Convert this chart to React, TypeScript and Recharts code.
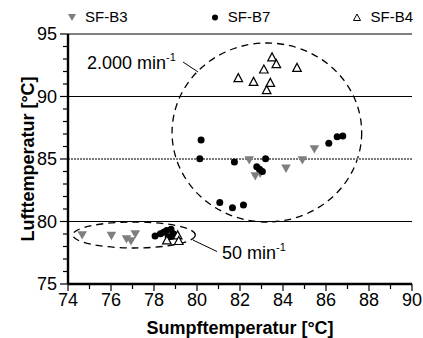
import React from 'react';
import {
  ScatterChart,
  Scatter,
  XAxis,
  YAxis,
  ReferenceLine,
  ReferenceArea,
  ReferenceDot,
  Legend,
} from 'recharts';

// Measured temperatures (sump vs. air), one list per test series
const sfB3 = [
  { x: 74.66, y: 78.92 },
  { x: 76.02, y: 78.87 },
  { x: 76.72, y: 78.6 },
  { x: 76.93, y: 78.44 },
  { x: 77.13, y: 79.0 },
  { x: 82.43, y: 84.92 },
  { x: 82.71, y: 83.64 },
  { x: 82.94, y: 83.85 },
  { x: 84.14, y: 84.25 },
  { x: 84.9, y: 84.92 },
  { x: 85.46, y: 85.8 },
];

const sfB7 = [
  { x: 78.05, y: 78.84 },
  { x: 78.3, y: 79.02 },
  { x: 78.45, y: 79.15 },
  { x: 78.59, y: 79.29 },
  { x: 78.79, y: 79.38 },
  { x: 78.9, y: 79.03 },
  { x: 78.66, y: 78.76 },
  { x: 78.8, y: 78.8 },
  { x: 80.19, y: 86.52 },
  { x: 80.13, y: 85.03 },
  { x: 81.74, y: 84.76 },
  { x: 83.19, y: 85.03 },
  { x: 82.78, y: 84.38 },
  { x: 82.91, y: 84.18 },
  { x: 83.04, y: 84.0 },
  { x: 86.13, y: 86.26 },
  { x: 86.52, y: 86.78 },
  { x: 86.78, y: 86.84 },
  { x: 81.06, y: 81.53 },
  { x: 81.65, y: 81.1 },
  { x: 82.16, y: 81.32 },
];

const sfB4 = [
  { x: 78.6, y: 78.5 },
  { x: 79.1, y: 78.9 },
  { x: 79.15, y: 78.45 },
  { x: 83.49, y: 93.14 },
  { x: 83.69, y: 92.6 },
  { x: 83.11, y: 92.17 },
  { x: 84.65, y: 92.3 },
  { x: 81.92, y: 91.48 },
  { x: 82.63, y: 91.18 },
  { x: 83.41, y: 91.1 },
  { x: 83.24, y: 90.52 },
];

const seriesNames = ['SF-B3', 'SF-B7', 'SF-B4'];
const xTicks = [74, 75, 76, 77, 78, 79, 80, 81, 82, 83, 84, 85, 86, 87, 88, 89, 90];
const yTicks = [75, 76, 77, 78, 79, 80, 81, 82, 83, 84, 85, 86, 87, 88, 89, 90, 91, 92, 93, 94, 95];
const blackGridLevels = [80, 90, 95];
const grayGridLevels = [85];

// Operating-point groups: centre and half-axes in data units
const groups = [
  { label: '2.000', cx: 83.25, cy: 87.12, rx: 4.41, ry: 7.16, lead: [{ x: 79.35, y: 92.76 }, { x: 80.05, y: 91.96 }], text: { x: 74.88, y: 92.68 } },
  { label: '50', cx: 77.07, cy: 78.92, rx: 2.85, ry: 1.04, lead: [{ x: 79.81, y: 78.52 }, { x: 80.93, y: 77.6 }], text: { x: 81.16, y: 77.48 } },
];

const FONT = 'Arial, "Liberation Sans", Helvetica, sans-serif';
const TICK_SIZE = 8;
const TICK_MARGIN = 2;

const DownTriangle = (p: any) => {
  const { cx, cy } = p;
  const w = 4.8;
  return <polygon points={`${cx - w},${cy - 3.8} ${cx + w},${cy - 3.8} ${cx},${cy + 4.6}`} fill="#7f7f7f" />;
};
const Dot = (p: any) => <circle cx={p.cx} cy={p.cy} r={3.5} fill="#000" />;
const UpTriangle = (p: any) => {
  const { cx, cy } = p;
  const w = 4.3;
  return (
    <polygon
      points={`${cx - w},${cy + 3.6} ${cx + w},${cy + 3.6} ${cx},${cy - 4.4}`}
      fill="#fff"
      stroke="#000"
      strokeWidth={1.2}
    />
  );
};

const legendIcon = (name: string) => {
  if (name === 'SF-B3') return <polygon points="1,2 9,2 5,9" fill="#7f7f7f" />;
  if (name === 'SF-B7') return <circle cx={5} cy={5.5} r={3} fill="#000" />;
  return <polygon points="1.5,8.5 8.5,8.5 5,2" fill="#fff" stroke="#000" strokeWidth={1} />;
};

const renderLegend = () => (
  <div
    style={{
      display: 'flex',
      justifyContent: 'space-between',
      padding: '8px 10px 0 67px',
      fontFamily: FONT,
      fontSize: 15,
      color: '#000',
      lineHeight: '18px',
    }}
  >
    {seriesNames.map((name) => (
      <div key={name} style={{ display: 'flex', alignItems: 'center' }}>
        <svg width={10} height={11} style={{ marginRight: 8 }}>
          {legendIcon(name)}
        </svg>
        <span>{name}</span>
      </div>
    ))}
  </div>
);

const XTick = (props: any) => {
  const { x, y, payload } = props;
  const v = payload.value;
  const major = v % 2 === 0;
  const axisY = y - TICK_SIZE - TICK_MARGIN;
  return (
    <g>
      <line x1={x} x2={x} y1={axisY} y2={axisY + (major ? 7 : 5)} stroke="#000" strokeWidth={1.2} />
      {major && (
        <text x={x} y={axisY + 21.5} textAnchor="middle" fontFamily={FONT} fontSize={18} fill="#000">
          {v}
        </text>
      )}
    </g>
  );
};

const YTick = (props: any) => {
  const { x, y, payload } = props;
  const v = payload.value;
  const major = v % 5 === 0;
  const axisX = x + TICK_SIZE + TICK_MARGIN;
  return (
    <g>
      <line x1={axisX - (major ? 8 : 5)} x2={axisX} y1={y} y2={y} stroke="#000" strokeWidth={1.2} />
      {major && (
        <text x={axisX - 11} y={y} dy="0.36em" textAnchor="end" fontFamily={FONT} fontSize={18} fill="#000">
          {v}
        </text>
      )}
    </g>
  );
};

const EllipseShape = (p: any) => (
  <ellipse
    cx={p.x + p.width / 2}
    cy={p.y + p.height / 2}
    rx={Math.abs(p.width) / 2}
    ry={Math.abs(p.height) / 2}
    fill="none"
    stroke="#000"
    strokeWidth={1.3}
    strokeDasharray="7 5"
  />
);

const speedLabel = (label: string) => (p: any) => (
  <text x={p.cx} y={p.cy} dy="0.36em" fontFamily={FONT} fontSize={18} fill="#000">
    {label} min
    <tspan fontSize={11} dy="-0.75em">-1</tspan>
  </text>
);

export default function App() {
  return (
    <div style={{ position: 'absolute', left: 0, top: 0, background: '#fff' }}>
      <ScatterChart width={423} height={338} margin={{ top: 34, right: 11, bottom: 0, left: 0 }}>
        <XAxis
          type="number"
          dataKey="x"
          domain={[74, 90]}
          ticks={xTicks}
          interval={0}
          height={54}
          tickSize={TICK_SIZE}
          tickMargin={TICK_MARGIN}
          tickLine={false}
          axisLine={{ stroke: '#000', strokeWidth: 2.4 }}
          tick={<XTick />}
          label={{
            content: (lp: any) => (
              <text
                x={lp.viewBox.x + lp.viewBox.width / 2}
                y={lp.viewBox.y + 50}
                textAnchor="middle"
                fontFamily={FONT}
                fontWeight="bold"
                fontSize={18}
                fill="#000"
              >
                Sumpftemperatur [°C]
              </text>
            ),
          }}
        />
        <YAxis
          type="number"
          dataKey="y"
          domain={[75, 95]}
          ticks={yTicks}
          interval={0}
          width={68}
          tickSize={TICK_SIZE}
          tickMargin={TICK_MARGIN}
          tickLine={false}
          axisLine={{ stroke: '#000', strokeWidth: 2.4 }}
          tick={<YTick />}
          label={{
            content: (lp: any) => {
              const cx = lp.viewBox.x + 33.5;
              const cy = lp.viewBox.y + lp.viewBox.height / 2;
              return (
                <text
                  x={cx}
                  y={cy}
                  transform={`rotate(-90, ${cx}, ${cy})`}
                  textAnchor="middle"
                  fontFamily={FONT}
                  fontWeight="bold"
                  fontSize={18}
                  fill="#000"
                >
                  Lufttemperatur [°C]
                </text>
              );
            },
          }}
        />
        {blackGridLevels.map((v) => (
          <ReferenceLine key={`b${v}`} y={v} stroke="#000" strokeWidth={1.2} />
        ))}
        {grayGridLevels.map((v) => (
          <ReferenceLine key={`g${v}`} y={v} stroke="#7a7a7a" strokeWidth={2.2} strokeDasharray="2 1" />
        ))}
        {groups.map((g) => (
          <ReferenceArea
            key={`e${g.label}`}
            x1={g.cx - g.rx}
            x2={g.cx + g.rx}
            y1={g.cy - g.ry}
            y2={g.cy + g.ry}
            ifOverflow="visible"
            shape={<EllipseShape />}
          />
        ))}
        {groups.map((g) => (
          <ReferenceLine
            key={`l${g.label}`}
            segment={g.lead}
            stroke="#000"
            strokeWidth={1}
            ifOverflow="visible"
          />
        ))}
        {groups.map((g) => (
          <ReferenceDot
            key={`t${g.label}`}
            x={g.text.x}
            y={g.text.y}
            r={0}
            ifOverflow="visible"
            shape={speedLabel(g.label)}
          />
        ))}
        <Scatter name="SF-B3" data={sfB3} shape={DownTriangle} isAnimationActive={false} />
        <Scatter name="SF-B7" data={sfB7} shape={Dot} isAnimationActive={false} />
        <Scatter name="SF-B4" data={sfB4} shape={UpTriangle} isAnimationActive={false} />
        <Legend
          layout="horizontal"
          verticalAlign="middle"
          align="center"
          wrapperStyle={{ top: 0, left: 0, width: 423, height: 34 }}
          content={renderLegend}
        />
      </ScatterChart>
    </div>
  );
}
